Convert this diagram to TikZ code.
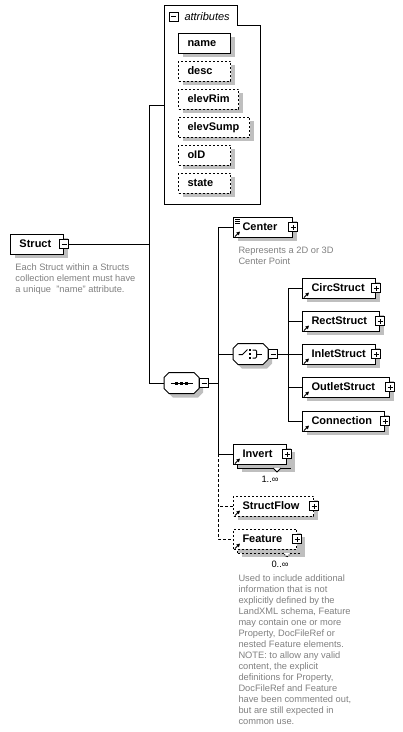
\documentclass[tikz,border=0pt]{standalone}
\usepackage{fontspec}
\setmainfont{Liberation Sans}
\usetikzlibrary{shadows,arrows.meta}
\definecolor{note}{gray}{0.5}
\definecolor{shade}{gray}{0.75}
\newcommand{\lblfont}{\fontsize{11}{13}\selectfont\bfseries}
\newcommand{\notefont}{\fontsize{9.3}{11}\selectfont}

\tikzset{
  shade4/.style={drop shadow={shadow xshift=4pt, shadow yshift=-4pt, fill=shade, opacity=1}},
  elem/.style={draw, fill=white, minimum height=20, inner xsep=9, inner ysep=0,
    text height=8.5, text depth=1.5, align=left, font=\lblfont, anchor=west, shade4},
  optelem/.style={elem, dash pattern=on 2pt off 2pt},
  backbox/.style={draw, fill=white, minimum height=20, inner sep=0, anchor=west, shade4},
  minusbox/.style={draw, fill=white, minimum size=9, inner sep=0,
    path picture={\draw ([xshift=2pt]path picture bounding box.west) -- ([xshift=-2pt]path picture bounding box.east);}},
  plusbox/.style={draw, fill=white, minimum size=9, inner sep=0,
    path picture={\draw ([xshift=2pt]path picture bounding box.west) -- ([xshift=-2pt]path picture bounding box.east);
                  \draw ([yshift=2pt]path picture bounding box.south) -- ([yshift=-2pt]path picture bounding box.north);}},
  comp/.style={minimum width=34, minimum height=20, inner sep=0, anchor=west},
  refarrow/.style={-{Triangle[length=3.5pt,width=3.5pt]}},
  optline/.style={dash pattern=on 3pt off 2pt},
  notetext/.style={font=\notefont, text=note, align=left, inner sep=0, anchor=north west},
}

\begin{document}
\begin{tikzpicture}[x=1pt, y=-1pt, line width=1pt]
    \useasboundingbox (0,0) rectangle (403,732);

    % Bus lines
    \coordinate (bus1) at (149,0);
    \coordinate (bus2) at (218,0);
    \coordinate (bus3) at (288,0);
    \coordinate (attrs-in) at (164,105);

    % Attributes group
    \draw (164,5) -- (237,5) -- (237,25) -- (260,25) -- (260,204) -- (164,204) -- cycle;
    \node[minusbox] (attrs-pm) at (173.5,16.5) {};
    \node[font=\fontsize{11}{13}\selectfont\itshape, inner sep=0, anchor=base west] (attrs-lbl) at (184,20) {attributes};

    \node[elem, text width=34] (a-name) at (178,43) {name};
    \node[optelem, text width=34] (a-desc) at (178,71) {desc};
    \node[optelem, text width=42] (a-rim) at (178,99) {elevRim};
    \node[optelem, text width=53] (a-sump) at (178,127) {elevSump};
    \node[optelem, text width=34] (a-oid) at (178,155) {oID};
    \node[optelem, text width=34] (a-state) at (178,183) {state};

    % Root element
    \node[elem, text width=35] (struct) at (10,244) {Struct};
    \node[minusbox] (struct-pm) at (struct.east) {};
    \node[notetext] (struct-note) at (15,263) {Each Struct within a Structs\\collection element must have\\a unique \ "name" attribute.};

    % Compositors (octagons)
    \node[comp] (seq) at (164,383) {};
    \node[comp] (choice) at (233,354) {};
    \foreach \n in {seq,choice}
        \filldraw[fill=white, shade4] ([xshift=5pt]\n.north west) -- ([xshift=-5pt]\n.north east)
            -- ([yshift=-5pt]\n.north east) -- ([yshift=5pt]\n.south east)
            -- ([xshift=-5pt]\n.south east) -- ([xshift=5pt]\n.south west)
            -- ([yshift=5pt]\n.south west) -- ([yshift=-5pt]\n.north west) -- cycle;

    % Sequence
    \node[minusbox, anchor=west] (seq-pm) at (seq.east) {};
    \draw ([xshift=-11pt]seq.center) -- ([xshift=11pt]seq.center);
    \foreach \dx in {-5,0,5}
        \fill ([xshift=\dx pt]seq.center) +(-1.5,-1.5) rectangle +(1.5,1.5);

    % Center
    \node[elem, text width=41] (center) at (233,227) {Center};
    \node[plusbox] (center-pm) at (center.east) {};
    \foreach \dy in {3,5,7}
        \draw[line width=0.8pt] ([shift={(2,\dy)}]center.north west) -- ++(5,0);
    \node[notetext] (center-note) at (238,246) {Represents a 2D or 3D\\Center Point};

    % Choice
    \node[minusbox, anchor=west] (choice-pm) at (choice.east) {};
    \begin{scope}[shift={(choice.center)}]
        \draw (-12,0.5) -- (-8,0.5) -- (-3,-4.5);
        \foreach \dy in {-4,0,4}
            \fill (-0.5,\dy) +(-1,-1) rectangle +(1,1);
        \draw (2,-4) -- (5,-4) -- (6,-3) -- (6,3) -- (5,4) -- (2,4);
        \draw (6,0) -- (11,0);
    \end{scope}

    % Choice children
    \node[elem, text width=55] (circ) at (302,288) {CircStruct};
    \node[elem, text width=59] (rect) at (302,321) {RectStruct};
    \node[elem, text width=55] (inlet) at (302,354) {InletStruct};
    \node[elem, text width=69] (outlet) at (302,387) {OutletStruct};
    \node[elem, text width=64] (conn) at (302,421) {Connection};
    \foreach \n in {circ,rect,inlet,outlet,conn}
        \node[plusbox] (\n-pm) at (\n.east) {};

    % Invert (repeated)
    \node[backbox, minimum width=53] (invert-bk) at (237,458) {};
    \node[elem, text width=35, drop shadow={opacity=0}] (invert) at (233,454) {Invert};
    \node[plusbox] (invert-pm) at (invert.east) {};
    \draw[fill=white] (273,468) -- (277,472) -- (281,468);
    \node[font=\notefont, inner sep=0, anchor=base] (invert-occ) at (270,482) {1..∞};

    % StructFlow
    \node[optelem, text width=62] (flow) at (233,506) {StructFlow};
    \node[plusbox] (flow-pm) at (flow.east) {};

    % Feature (repeated)
    \node[backbox, minimum width=63, dash pattern=on 2pt off 2pt] (feature-bk) at (237,543) {};
    \node[optelem, text width=45, drop shadow={opacity=0}] (feature) at (233,539) {Feature};
    \node[plusbox] (feature-pm) at (feature.east) {};
    \draw[fill=white, dash pattern=on 1pt off 1pt] (283,553) -- (287,557) -- (291,553);
    \node[font=\notefont, inner sep=0, anchor=base] (feature-occ) at (280,567) {0..∞};
    \node[notetext] (feature-note) at (238,574) {Used to include additional\\information that is not\\explicitly defined by the\\LandXML schema, Feature\\may contain one or more\\Property, DocFileRef or\\nested Feature elements.\\NOTE: to allow any valid\\content, the explicit\\definitions for Property,\\DocFileRef and Feature\\have been commented out,\\but are still expected in\\common use.};

    % Reference arrows
    \foreach \n in {center,circ,rect,inlet,outlet,conn,invert,flow,feature}
        \draw[refarrow] ([shift={(2,-1)}]\n.south west) -- ++(5,-5);

    % Connectors
    \draw (struct-pm.east) -- (struct-pm.east -| bus1);
    \draw (attrs-in) -- (attrs-in -| bus1) -- (seq.west -| bus1) -- (seq.west);
    \draw (seq-pm.east) -- (seq-pm.east -| bus2);
    \draw (center.west) -- (center.west -| bus2) -- (invert.west -| bus2) -- (invert.west);
    \draw (choice.west) -- (choice.west -| bus2);
    \draw[optline] (invert.west -| bus2) -- (feature.west -| bus2) -- (feature.west);
    \draw[optline] (flow.west) -- (flow.west -| bus2);
    \draw (choice-pm.east) -- (choice-pm.east -| bus3);
    \draw (circ.west) -- (circ.west -| bus3) -- (conn.west -| bus3) -- (conn.west);
    \foreach \n in {rect,inlet,outlet}
        \draw (\n.west) -- (\n.west -| bus3);
\end{tikzpicture}
\end{document}
